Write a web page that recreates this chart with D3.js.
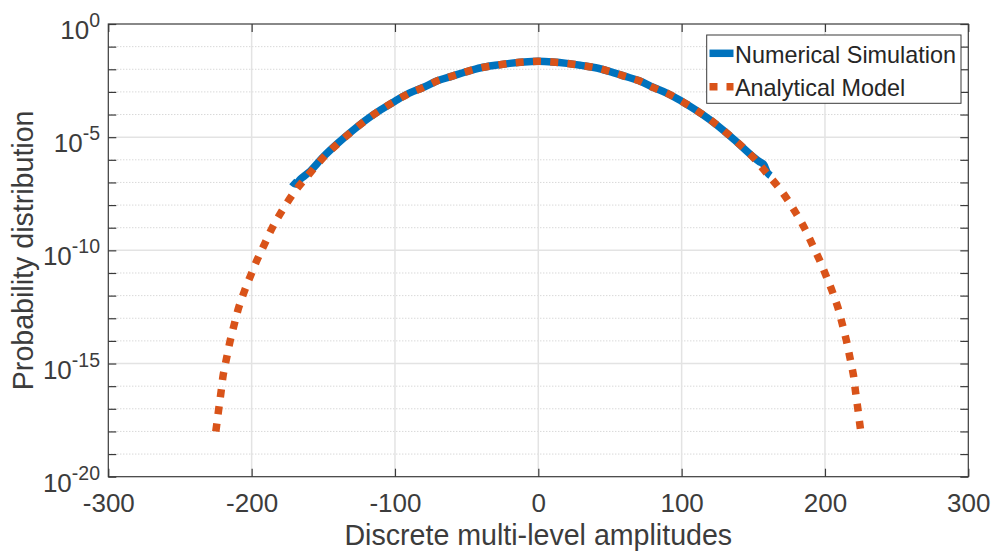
<!DOCTYPE html>
<html>
<head>
<meta charset="utf-8">
<script src="https://cdn.jsdelivr.net/npm/d3@7"></script>
<style>
  html, body { margin: 0; padding: 0; background: #fff; }
  svg { display: block; font-family: "Liberation Sans", Arial, Helvetica, sans-serif; }
</style>
</head>
<body>
<svg id="chart" width="992" height="552"></svg>
<script>
// Analytical model: amplitude levels and their probabilities
const analyticalX = [-225, -224.5, -223, -221.4, -219.8, -217.5, -215, -212, -209, -205, -200.5, -196, -191, -186, -180,
  -170, -160, -150, -140, -130, -120, -110, -100, -90, -80, -70, -60, -50, -40, -30, -20, -10, 0,
  10, 20, 30, 40, 50, 60, 70, 80, 90, 100, 110, 120, 130, 140, 150, 160, 170, 180,
  186, 191, 196, 200.5, 205, 209, 212, 215, 217.5, 219.8, 221.4, 223, 224.5, 225];
const analyticalP = [1.0e-18, 1.7e-18, 9.3e-18, 5.2e-17, 3.2e-16, 1.7e-15, 1.0e-14, 5.8e-14, 3.0e-13, 1.6e-12, 8.3e-12, 4.0e-11, 1.9e-10, 8.9e-10, 4.2e-9,
  3.9e-8, 2.3e-7, 1.26e-6, 5.1e-6, 1.82e-5, 5.8e-5, 1.58e-4, 3.9e-4, 8.7e-4, 1.58e-3, 3.16e-3, 5.0e-3, 7.9e-3, 1.17e-2, 1.48e-2, 1.82e-2, 2.09e-2, 2.24e-2,
  2.09e-2, 1.82e-2, 1.48e-2, 1.17e-2, 7.9e-3, 5.0e-3, 3.16e-3, 1.58e-3, 8.7e-4, 3.9e-4, 1.58e-4, 5.8e-5, 1.82e-5, 5.1e-6, 1.26e-6, 2.3e-7, 3.9e-8, 4.2e-9,
  8.9e-10, 1.9e-10, 4.0e-11, 8.3e-12, 1.6e-12, 3.0e-13, 5.8e-14, 1.0e-14, 1.7e-15, 3.2e-16, 5.2e-17, 9.3e-18, 1.7e-18, 1.0e-18];

// Numerical simulation: histogram estimate over the levels that occurred
const simulationX = [-172, -169, -166, -160, -150, -140, -130, -120, -110, -100, -90, -80, -70, -60, -50, -40, -30, -20, -10, 0,
  10, 20, 30, 40, 50, 60, 70, 80, 90, 100, 110, 120, 130, 140, 150, 154, 157, 160, 162];
const simulationP = [1.1e-7, 8.5e-8, 1.4e-7, 2.8e-7, 1.35e-6, 5.3e-6, 1.85e-5, 5.9e-5, 1.6e-4, 3.9e-4, 8.8e-4, 1.6e-3, 3.2e-3, 5.0e-3, 7.9e-3, 1.17e-2, 1.5e-2, 1.82e-2, 2.1e-2, 2.24e-2,
  2.1e-2, 1.82e-2, 1.48e-2, 1.17e-2, 7.9e-3, 5.0e-3, 3.16e-3, 1.6e-3, 8.7e-4, 3.9e-4, 1.58e-4, 5.8e-5, 1.82e-5, 5.0e-6, 1.35e-6, 8.5e-7, 6.5e-7, 2.6e-7, 2.0e-7];

const xTicks = [-300, -200, -100, 0, 100, 200, 300];
const yMajorExponents = [0, -5, -10, -15, -20];
const yMinorExponents = d3.range(0, -21, -1);

const seriesNames = ["Numerical Simulation", "Analytical Model"];
const seriesColors = ["#0072BD", "#D95319"];

const svg = d3.select("#chart");
const plotLeft = 108.3, plotRight = 968.3, plotTop = 24, plotBottom = 476.7;

const x = d3.scaleLinear().domain([-300, 300]).range([plotLeft, plotRight]);
const y = d3.scaleLog().domain([1e-20, 1]).range([plotBottom, plotTop]);

const axisColor = "#3a3a3a";
const textColor = "#3c3c3c";

// Grid: dotted minor decades, solid major lines
svg.append("g").selectAll("line")
  .data(yMinorExponents.filter(e => e % 5 !== 0))
  .join("line")
  .attr("x1", plotLeft).attr("x2", plotRight)
  .attr("y1", e => y(Math.pow(10, e))).attr("y2", e => y(Math.pow(10, e)))
  .attr("stroke", "#c8c8c8").attr("stroke-width", 1)
  .attr("stroke-dasharray", "1,2");

svg.append("g").selectAll("line")
  .data(yMajorExponents.filter(e => e !== 0 && e !== -20))
  .join("line")
  .attr("x1", plotLeft).attr("x2", plotRight)
  .attr("y1", e => y(Math.pow(10, e))).attr("y2", e => y(Math.pow(10, e)))
  .attr("stroke", "#e3e3e3").attr("stroke-width", 1.5);

svg.append("g").selectAll("line")
  .data(xTicks.slice(1, -1))
  .join("line")
  .attr("x1", d => x(d)).attr("x2", d => x(d))
  .attr("y1", plotTop).attr("y2", plotBottom)
  .attr("stroke", "#e3e3e3").attr("stroke-width", 1.5);

// Series
const line = d3.line()
  .x(d => x(d[0]))
  .y(d => y(d[1]))
  .curve(d3.curveCatmullRom.alpha(0.5));

const simData = d3.zip(simulationX, simulationP);
const anaData = d3.zip(analyticalX, analyticalP);

svg.append("path")
  .datum(simData)
  .attr("d", line)
  .attr("fill", "none")
  .attr("stroke", seriesColors[0])
  .attr("stroke-width", 7.5)
  .attr("stroke-linejoin", "round");

svg.append("path")
  .datum(anaData)
  .attr("d", line)
  .attr("fill", "none")
  .attr("stroke", seriesColors[1])
  .attr("stroke-width", 7.5)
  .attr("stroke-dasharray", "8,9.3");

// Axes box
svg.append("rect")
  .attr("x", plotLeft).attr("y", plotTop)
  .attr("width", plotRight - plotLeft).attr("height", plotBottom - plotTop)
  .attr("fill", "none").attr("stroke", axisColor).attr("stroke-width", 1.2);

const tickLen = 8;
const xAxisBottom = d3.axisBottom(x).tickValues(xTicks).tickSizeInner(-tickLen).tickSizeOuter(0).tickPadding(16);
const gx = svg.append("g").attr("transform", `translate(0,${plotBottom})`).call(xAxisBottom);
gx.select(".domain").remove();
gx.selectAll(".tick line").attr("stroke", axisColor).attr("stroke-width", 1.2);
gx.selectAll(".tick text")
  .attr("fill", textColor)
  .attr("font-size", 26)
  .attr("font-family", "Liberation Sans, Arial, sans-serif")
  .attr("dy", null)
  .attr("y", 35)
  .text(d => String(d));

const xAxisTop = d3.axisTop(x).tickValues(xTicks).tickSizeInner(-tickLen).tickSizeOuter(0).tickFormat("");
const gxt = svg.append("g").attr("transform", `translate(0,${plotTop})`).call(xAxisTop);
gxt.select(".domain").remove();
gxt.selectAll(".tick line").attr("stroke", axisColor).attr("stroke-width", 1.2);

const yTickVals = yMinorExponents.map(e => Math.pow(10, e));
const yAxisLeft = d3.axisLeft(y).tickValues(yTickVals).tickSizeInner(-tickLen).tickSizeOuter(0).tickFormat("");
const gyl = svg.append("g").attr("transform", `translate(${plotLeft},0)`).call(yAxisLeft);
gyl.select(".domain").remove();
gyl.selectAll(".tick line").attr("stroke", axisColor).attr("stroke-width", 1.2);

const yAxisRight = d3.axisRight(y).tickValues(yTickVals).tickSizeInner(-tickLen).tickSizeOuter(0).tickFormat("");
const gyr = svg.append("g").attr("transform", `translate(${plotRight},0)`).call(yAxisRight);
gyr.select(".domain").remove();
gyr.selectAll(".tick line").attr("stroke", axisColor).attr("stroke-width", 1.2);

// Y tick labels as 10 with superscript exponent
const yLabels = svg.append("g").selectAll("text")
  .data(yMajorExponents)
  .join("text")
  .attr("x", 100)
  .attr("y", e => y(Math.pow(10, e)) + 15)
  .attr("text-anchor", "end")
  .attr("fill", textColor)
  .attr("font-size", 26);
yLabels.append("tspan").text("10");
yLabels.append("tspan")
  .attr("dy", -12)
  .attr("font-size", 19.5)
  .text(e => String(e));

// Axis titles
svg.append("text")
  .attr("x", (plotLeft + plotRight) / 2)
  .attr("y", 545)
  .attr("text-anchor", "middle")
  .attr("fill", textColor)
  .attr("font-size", 28.6)
  .text("Discrete multi-level amplitudes");

svg.append("text")
  .attr("transform", `translate(33,${(plotTop + plotBottom) / 2}) rotate(-90)`)
  .attr("text-anchor", "middle")
  .attr("fill", textColor)
  .attr("font-size", 28.6)
  .text("Probability distribution");

// Legend
const legend = svg.append("g");
legend.append("rect")
  .attr("x", 706.7).attr("y", 35)
  .attr("width", 254.3).attr("height", 68.3)
  .attr("fill", "#fff").attr("stroke", axisColor).attr("stroke-width", 1);

const legendRows = [53.3, 86.7];
seriesNames.forEach((name, i) => {
  const ly = legendRows[i];
  legend.append("line")
    .attr("x1", 709.5).attr("x2", 733.5)
    .attr("y1", ly).attr("y2", ly)
    .attr("stroke", seriesColors[i])
    .attr("stroke-width", 7.5)
    .attr("stroke-dasharray", i === 1 ? "8,9" : null);
  legend.append("text")
    .attr("x", 735)
    .attr("y", ly + 9.3)
    .attr("fill", "#262626")
    .attr("font-size", 23.4)
    .text(name);
});
</script>
</body>
</html>
